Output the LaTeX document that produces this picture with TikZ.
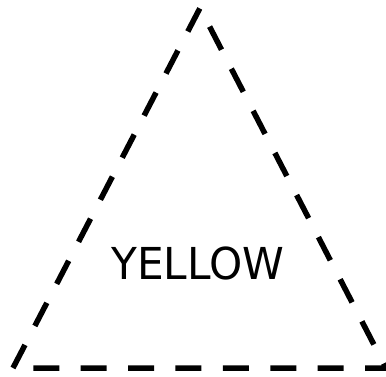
\documentclass[tikz,border=0pt]{standalone}
\usepackage{fontspec}
\setmainfont{DejaVu Sans}
\tikzset{
  edge/.style={line width=5.5pt, dash pattern=on 26pt off 21.4pt, line cap=butt},
  label/.style={font=\fontsize{44}{44}\selectfont, inner sep=0pt},
}
\begin{document}
\begin{tikzpicture}[x=1pt,y=1pt]
  \useasboundingbox (0,0) rectangle (386,376);
  % corners of the triangle
  \coordinate (bl) at (13,8);
  \coordinate (br) at (386,8);
  \coordinate (top) at (200,368);
  \draw[edge] (bl) -- (top) -- (br) -- cycle;
  \node[label, xscale=0.96] (word) at (198,113) {YELLOW};
\end{tikzpicture}
\end{document}
